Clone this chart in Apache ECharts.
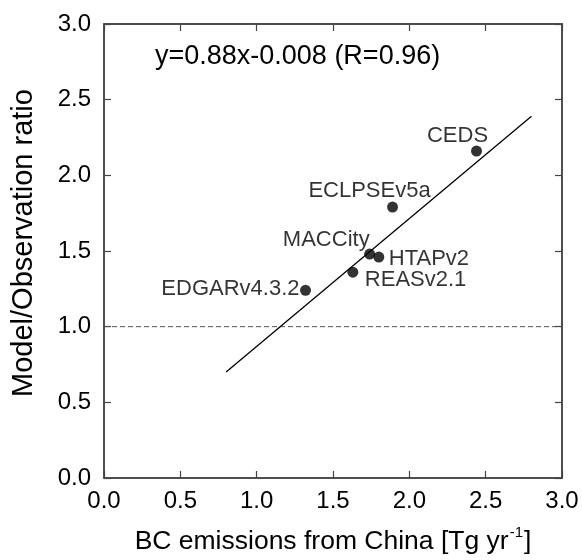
<!DOCTYPE html>
<html><head><meta charset="utf-8">
<script src="https://cdn.jsdelivr.net/npm/echarts@6/dist/echarts.min.js"></script>
<style>html,body{margin:0;padding:0;background:#fff}#c{width:582px;height:560px}</style>
</head><body><div id="c"></div>
<script>
const names = ['CEDS','ECLPSEv5a','MACCity','HTAPv2','REASv2.1','EDGARv4.3.2'];
const emissions = [2.44, 1.89, 1.74, 1.80, 1.63, 1.32];
const ratios = [2.16, 1.79, 1.48, 1.46, 1.36, 1.24];
const fitLineX = [0.80, 2.80];
const fitLineY = [0.70, 2.39];
const refLineX = [0, 3];
const refLineY = [1, 1];
const equation = 'y=0.88x-0.008 (R=0.96)';
const xTitle = 'BC emissions from China [Tg yr';
const yTitle = 'Model/Observation ratio';

// label styling per point (style only)
const labelStyle = [
  {align:'center', offset:[-19,-15]},
  {align:'center', offset:[-23,-16]},
  {align:'right', offset:[0,-14]},
  {align:'left', offset:[10,2]},
  {align:'left', offset:[12,8]},
  {align:'right', offset:[-6,-1]}
];

const FONT = 'Liberation Sans';
const mkLine = () => ({show:true, onZero:false, lineStyle:{color:'#444', width:1.5}});
const mkTick = () => ({show:true, inside:true, length:7, lineStyle:{color:'#444', width:1.2}});

const chart = echarts.init(document.getElementById('c'), null, {renderer:'canvas'});
chart.setOption({
  backgroundColor:'#fff',
  animation:false,
  textStyle:{fontFamily:FONT},
  title:{text:equation, left:150, top:38, textStyle:{fontFamily:FONT, fontSize:27, fontWeight:'normal', color:'#000'}},
  grid:{left:104, right:20, top:24, bottom:76, show:true, borderColor:'#444', borderWidth:1.5, backgroundColor:'transparent'},
  xAxis:[{
    type:'value', min:0, max:3, interval:0.5, position:'bottom',
    axisLine:mkLine(), axisTick:mkTick(), splitLine:{show:false},
    axisLabel:{color:'#000', fontSize:24, fontFamily:FONT, margin:11, formatter:v=>v.toFixed(1)},
    name:'{a|'+xTitle+'}{s|-1}{a|]}', nameLocation:'middle', nameGap:47,
    nameTextStyle:{rich:{a:{fontSize:26.5, fontFamily:FONT, color:'#000', verticalAlign:'bottom', lineHeight:30},
                         s:{fontSize:15, fontFamily:FONT, color:'#000', verticalAlign:'top', lineHeight:30, padding:[0,1,12,1]}}}
  },{
    type:'value', min:0, max:3, interval:0.5, position:'top',
    axisLine:mkLine(), axisTick:mkTick(), splitLine:{show:false}, axisLabel:{show:false}
  }],
  yAxis:[{
    type:'value', min:0, max:3, interval:0.5, position:'left',
    axisLine:mkLine(), axisTick:mkTick(), splitLine:{show:false},
    axisLabel:{color:'#000', fontSize:24, fontFamily:FONT, margin:13, formatter:v=>v.toFixed(1)},
    name:yTitle, nameLocation:'middle', nameGap:66,
    nameTextStyle:{fontSize:29, fontFamily:FONT, color:'#000', padding:[0,0,0,16]}
  },{
    type:'value', min:0, max:3, interval:0.5, position:'right',
    axisLine:mkLine(), axisTick:mkTick(), splitLine:{show:false}, axisLabel:{show:false}
  }],
  series:[
    {type:'line', data:refLineX.map((x,i)=>[x,refLineY[i]]), symbol:'none',
     lineStyle:{color:'#555', width:1, type:[5,3]}, silent:true},
    {type:'line', data:fitLineX.map((x,i)=>[x,fitLineY[i]]), symbol:'none',
     lineStyle:{color:'#000', width:1.3}, silent:true},
    {type:'scatter', symbol:'circle', symbolSize:11, itemStyle:{color:'#000'},
     data:names.map((n,i)=>({name:n, value:[emissions[i], ratios[i]],
       label:{show:true, position:'inside', formatter:n, color:'#000', fontSize:22, fontFamily:FONT,
              textBorderWidth:0, align:labelStyle[i].align, verticalAlign:'middle', offset:labelStyle[i].offset}}))}
  ]
});
</script></body></html>
